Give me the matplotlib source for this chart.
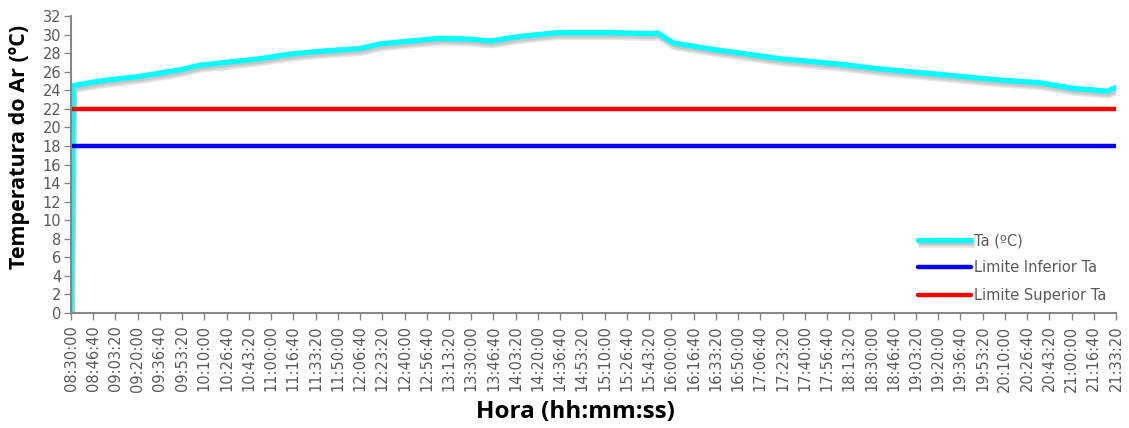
import matplotlib
matplotlib.use("Agg")
import matplotlib.pyplot as plt
import matplotlib.patheffects as pe
import numpy as np

# leituras da temperatura do ar (hora, ºC)
horas = ["08:30:00", "08:31:30", "08:51:40", "09:21:40", "09:51:40", "10:06:40",
         "10:51:40", "11:14:10", "11:36:40", "12:06:40", "12:21:40", "12:36:40",
         "13:06:40", "13:29:10", "13:44:10", "14:06:40", "14:34:20", "15:16:20",
         "15:46:20", "15:49:20", "16:01:20", "16:31:20", "16:56:40", "17:21:30",
         "17:36:30", "18:06:30", "18:36:30", "19:06:30", "19:36:30", "20:06:30",
         "20:36:30", "21:01:10", "21:26:40", "21:33:20"]
ta = [0.0, 24.5, 25.0, 25.5, 26.2, 26.7,
      27.4, 27.9, 28.2, 28.5, 29.0, 29.2,
      29.6, 29.5, 29.3, 29.8, 30.2, 30.2,
      30.1, 30.2, 29.1, 28.4, 27.9, 27.4,
      27.2, 26.8, 26.3, 25.9, 25.5, 25.1,
      24.8, 24.2, 23.9, 24.3]
limite_inferior = 18
limite_superior = 22

inicio = "08:30:00"
fim = "21:33:20"
passo_ticks = 1000  # segundos (16:40)


def seg(h):
    hh, mm, ss = [int(v) for v in h.split(":")]
    return hh * 3600 + mm * 60 + ss


t0 = seg(inicio)
t = np.array([seg(h) - t0 for h in horas])
tmax = seg(fim) - t0

ticks = np.arange(0, tmax + 1, passo_ticks)
tick_labels = []
for s in ticks:
    s = int(s) + t0
    tick_labels.append("%02d:%02d:%02d" % (s // 3600, (s % 3600) // 60, s % 60))

cinza = "#595959"
fig = plt.figure(figsize=(11.29, 4.28), dpi=100)
ax = fig.add_axes([0.0629, 0.2687, 0.9256, 0.6939])

# sombra suave: varias camadas finas
sombra = [pe.SimpleLineShadow(offset=(1, -d), shadow_color="gray", alpha=0.18)
          for d in (1.5, 2.5, 3.5)]
ax.plot(t, ta, color="#00FFFF", lw=3.8, label="Ta (ºC)", solid_capstyle="round",
        path_effects=sombra + [pe.Normal()])
ax.plot([0, tmax], [limite_inferior, limite_inferior], color="#0000FF", lw=3.2,
        label="Limite Inferior Ta", solid_capstyle="round")
ax.plot([0, tmax], [limite_superior, limite_superior], color="#FF0000", lw=3.2,
        label="Limite Superior Ta", solid_capstyle="round")

ax.set_xlim(0, tmax)
ax.set_ylim(0, 32)
ax.set_yticks(np.arange(0, 33, 2))
ax.set_xticks(ticks)
ax.set_xticklabels(tick_labels, rotation=90)
for lab in ax.get_xticklabels() + ax.get_yticklabels():
    lab.set_color(cinza)
    lab.set_fontsize(10.5)
ax.tick_params(axis="both", direction="out", length=5, color="#868686", width=1)
ax.tick_params(axis="x", pad=4)
ax.tick_params(axis="y", pad=2)
for s in ["top", "right"]:
    ax.spines[s].set_visible(False)
for s in ["left", "bottom"]:
    ax.spines[s].set_color("#868686")
    ax.spines[s].set_linewidth(1.5)

ax.set_ylabel("Temperatura do Ar (ºC)", fontsize=15.5, fontweight="bold",
              family="Open Sans", labelpad=4)
ax.yaxis.set_label_coords(-0.039, 0.56)
ax.set_xlabel("Hora (hh:mm:ss)", fontsize=17.5, fontweight="bold",
              family="Open Sans", labelpad=6)
ax.xaxis.label.set_x(0.483)

leg = ax.legend(loc="lower right", frameon=False, fontsize=10.5, handlelength=3.6,
                handletextpad=0.2, labelspacing=0.85, bbox_to_anchor=(1.003, -0.01))
for txt in leg.get_texts():
    txt.set_color(cinza)

fig.savefig("out.png", dpi=100)
